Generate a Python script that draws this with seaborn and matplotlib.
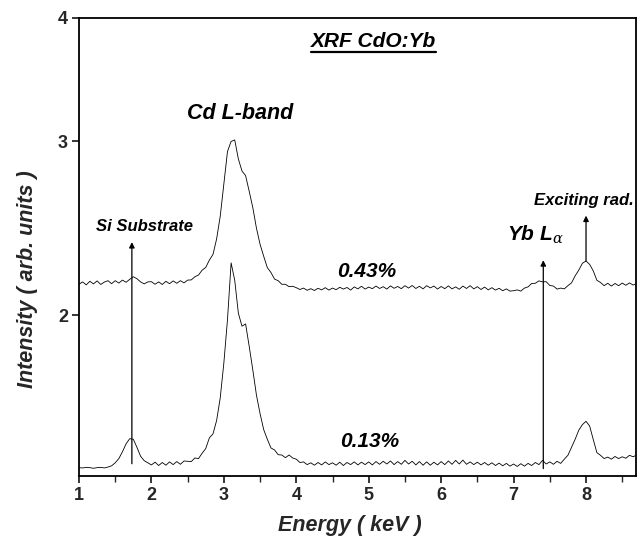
import numpy as np
import pandas as pd
import matplotlib
matplotlib.use("Agg")
import matplotlib.pyplot as plt
from matplotlib.lines import Line2D
from matplotlib.ticker import FixedLocator, NullLocator, MultipleLocator
import seaborn as sns

# ---------------- data ----------------
# energy grid: 1.00 ... 8.70 keV in 0.05 keV steps (155 points)
energy = np.round(1.0 + 0.05 * np.arange(155), 2)

# 0.43 % Yb sample (upper spectrum), blocks of 0.5 keV
high_043 = [
    2.150, 2.162, 2.147, 2.165, 2.152, 2.167, 2.149, 2.161, 2.168, 2.153,  # 1.00-1.45
    2.168, 2.156, 2.171, 2.160, 2.175, 2.188, 2.178, 2.162, 2.152, 2.162,  # 1.50-1.95
    2.163, 2.150, 2.162, 2.149, 2.165, 2.153, 2.167, 2.155, 2.168, 2.157,  # 2.00-2.45
    2.171, 2.172, 2.188, 2.197, 2.222, 2.236, 2.275, 2.305, 2.390, 2.520,  # 2.50-2.95
    2.720, 2.930, 3.000, 3.010, 2.880, 2.800, 2.770, 2.670, 2.570, 2.450,  # 3.00-3.45
    2.360, 2.295, 2.235, 2.210, 2.176, 2.168, 2.150, 2.150, 2.138, 2.140,  # 3.50-3.95
    2.133, 2.124, 2.131, 2.120, 2.128, 2.119, 2.130, 2.122, 2.133, 2.121,  # 4.00-4.45
    2.131, 2.123, 2.135, 2.126, 2.134, 2.121, 2.137, 2.127, 2.140, 2.126,  # 4.50-4.95
    2.136, 2.128, 2.141, 2.129, 2.138, 2.126, 2.142, 2.130, 2.139, 2.128,  # 5.00-5.45
    2.143, 2.131, 2.144, 2.129, 2.140, 2.127, 2.143, 2.132, 2.141, 2.126,  # 5.50-5.95
    2.139, 2.128, 2.142, 2.127, 2.137, 2.125, 2.141, 2.129, 2.143, 2.127,  # 6.00-6.45
    2.138, 2.124, 2.136, 2.122, 2.133, 2.121, 2.130, 2.118, 2.127, 2.116,  # 6.50-6.95
    2.118, 2.122, 2.116, 2.131, 2.137, 2.154, 2.155, 2.167, 2.162, 2.163,  # 7.00-7.45
    2.144, 2.141, 2.126, 2.131, 2.127, 2.143, 2.157, 2.193, 2.222, 2.258,  # 7.50-7.95
    2.270, 2.252, 2.218, 2.170, 2.159, 2.143, 2.155, 2.141, 2.154, 2.143,  # 8.00-8.45
    2.156, 2.145, 2.157, 2.146, 2.154,                                     # 8.50-8.70
]

# 0.13 % Yb sample (lower spectrum)
low_013 = [
    1.402, 1.401, 1.403, 1.402, 1.400, 1.402, 1.403, 1.401, 1.404, 1.408,  # 1.00-1.45
    1.418, 1.432, 1.455, 1.482, 1.500, 1.498, 1.470, 1.440, 1.425, 1.418,  # 1.50-1.95
    1.411, 1.420, 1.409, 1.419, 1.410, 1.421, 1.412, 1.422, 1.413, 1.424,  # 2.00-2.45
    1.423, 1.422, 1.434, 1.432, 1.450, 1.466, 1.503, 1.517, 1.565, 1.650,  # 2.50-2.95
    1.790, 1.980, 2.260, 2.170, 2.010, 1.950, 1.960, 1.860, 1.760, 1.660,  # 3.00-3.45
    1.590, 1.532, 1.498, 1.468, 1.461, 1.445, 1.444, 1.435, 1.444, 1.434,  # 3.50-3.95
    1.430, 1.419, 1.421, 1.412, 1.418, 1.410, 1.419, 1.411, 1.421, 1.412,  # 4.00-4.45
    1.418, 1.410, 1.420, 1.409, 1.419, 1.412, 1.421, 1.411, 1.420, 1.412,  # 4.50-4.95
    1.421, 1.411, 1.422, 1.413, 1.423, 1.414, 1.424, 1.412, 1.422, 1.413,  # 5.00-5.45
    1.426, 1.414, 1.423, 1.411, 1.422, 1.410, 1.421, 1.410, 1.420, 1.411,  # 5.50-5.95
    1.422, 1.412, 1.424, 1.413, 1.426, 1.414, 1.427, 1.413, 1.421, 1.412,  # 6.00-6.45
    1.420, 1.411, 1.419, 1.410, 1.418, 1.409, 1.417, 1.408, 1.416, 1.407,  # 6.50-6.95
    1.414, 1.406, 1.415, 1.407, 1.416, 1.409, 1.419, 1.412, 1.426, 1.414,  # 7.00-7.45
    1.421, 1.413, 1.423, 1.416, 1.430, 1.443, 1.470, 1.498, 1.530, 1.550,  # 7.50-7.95
    1.562, 1.545, 1.497, 1.452, 1.443, 1.432, 1.437, 1.430, 1.439, 1.432,  # 8.00-8.45
    1.438, 1.433, 1.443, 1.438, 1.444,                                     # 8.50-8.70
]

x_ticks = [1, 2, 3, 4, 5, 6, 7, 8]
y_ticks = [2, 3, 4]
y_tick_labels = ["2", "3", "4"]

# line markers (energy, from, to)
si_line = (1.73, 1.415, 2.372)
yb_line = (7.41, 1.399, 2.274)
exc_line = (8.00, 2.270, 2.523)

# ---------------- figure ----------------
sns.set_style("ticks")
plt.rcParams["font.family"] = ["Liberation Sans", "DejaVu Sans"]
plt.rcParams["mathtext.fontset"] = "dejavuserif"

W, H = 641, 544
fig = plt.figure(figsize=(W / 100, H / 100), dpi=100)
L, R, T, B = 79, 636, 18, 476
ax = fig.add_axes([L / W, 1 - B / H, (R - L) / W, (B - T) / H])

df = pd.DataFrame({
    "Energy": np.concatenate([energy, energy]),
    "Intensity": np.concatenate([high_043, low_013]),
    "sample": ["0.43%"] * len(energy) + ["0.13%"] * len(energy),
})
sns.lineplot(data=df, x="Energy", y="Intensity", units="sample", estimator=None,
             color="black", lw=0.6, ax=ax, legend=False)

ax.set_yscale("log")
ax.set_xlim(1.0, 8.69)
ax.set_ylim(1.375, 4.0)
ax.yaxis.set_major_locator(FixedLocator(y_ticks))
ax.set_yticklabels(y_tick_labels)
ax.yaxis.set_minor_locator(NullLocator())
ax.xaxis.set_major_locator(FixedLocator(x_ticks))
ax.xaxis.set_minor_locator(MultipleLocator(0.5))

for s in ax.spines.values():
    s.set_linewidth(1.3)
    s.set_color("black")
ax.tick_params(axis="both", which="major", direction="out", length=5, width=1.1,
               color="black", labelsize=13, pad=3)
ax.tick_params(axis="x", which="minor", direction="out", length=4, width=1.0)
for lab in ax.get_xticklabels() + ax.get_yticklabels():
    lab.set_fontweight("bold")

ax.set_xlabel("Energy ( keV )", fontsize=15.5, fontweight="bold", fontstyle="italic")
ax.set_ylabel("Intensity ( arb. units )", fontsize=15.5, fontweight="bold", fontstyle="italic")
ax.xaxis.set_label_coords(0.486, -0.107)
ax.xaxis.label.set_va("center")
ax.yaxis.set_label_coords(-0.092, 0.43)
ax.yaxis.label.set_va("center")

# arrows
arrow_kw = dict(arrowstyle="-|>", color="black", lw=0.9, mutation_scale=8, shrinkA=0, shrinkB=0)
for (xe, y0, y1) in (si_line, yb_line, exc_line):
    ax.annotate("", xy=(xe, y1), xytext=(xe, y0), arrowprops=arrow_kw)

bi = dict(fontweight="bold", fontstyle="italic", ha="center", va="center", color="black")
ax.text(3.22, 3.2, "Cd L-band", fontsize=15.5, **bi)
ax.text(1.9, 2.458, "Si Substrate", fontsize=12, **bi)
ax.text(7.97, 2.614, "Exciting rad.", fontsize=12, **bi)
ax.text(7.3, 2.41, r"Yb L$_{\alpha}$", fontsize=15, **bi)
ax.text(4.97, 2.216, "0.43%", fontsize=15, **bi)
ax.text(5.01, 1.49, "0.13%", fontsize=15, **bi)
title = ax.text(5.07, 3.79, "XRF CdO:Yb", fontsize=15, **bi)

# underline for the title
fig.canvas.draw()
bb = title.get_window_extent(fig.canvas.get_renderer())
inv = fig.transFigure.inverted()
(x0, y0), (x1, _) = inv.transform([(bb.x0, bb.y0 - 1.0), (bb.x1, bb.y0 - 1.0)])
fig.add_artist(Line2D([x0, x1], [y0, y0], transform=fig.transFigure, color="black", lw=1.6))

fig.savefig("out.png", dpi=100)
